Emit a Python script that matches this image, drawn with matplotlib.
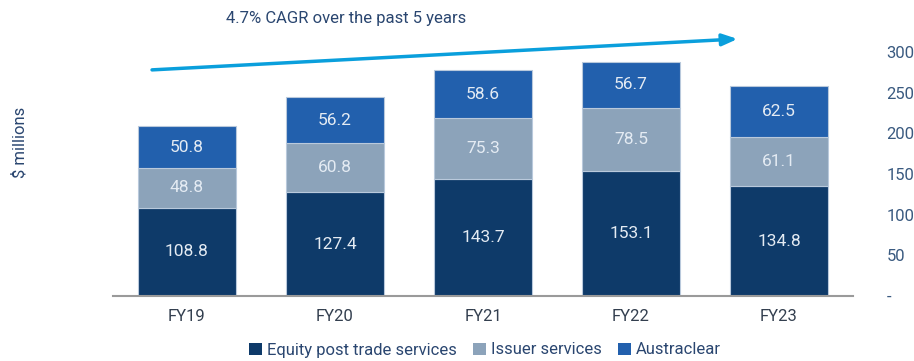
import matplotlib.pyplot as plt
from matplotlib.patches import Patch

years = ["FY19", "FY20", "FY21", "FY22", "FY23"]
equity_post_trade = [108.8, 127.4, 143.7, 153.1, 134.8]
issuer_services = [48.8, 60.8, 75.3, 78.5, 61.1]
austraclear = [50.8, 56.2, 58.6, 56.7, 62.5]

series_names = ["Equity post trade services", "Issuer services", "Austraclear"]
colors = ["#0e3a69", "#8ca3ba", "#2260ad"]
text_col = "#2a4670"

plt.rcParams["font.family"] = ["Roboto", "DejaVu Sans"]

fig = plt.figure(figsize=(9.14, 3.61), dpi=100)
ax = fig.add_axes([0.1236, 0.18, 0.8097, 0.676])

x = list(range(len(years)))
bottom = [0.0] * len(years)
for vals, col in zip([equity_post_trade, issuer_services, austraclear], colors):
    ax.bar(x, vals, width=0.665, bottom=bottom, color=col,
           edgecolor="#b9c9dc", linewidth=0.8)
    for xi, b, v in zip(x, bottom, vals):
        ax.text(xi, b + v / 2, f"{v:.1f}", ha="center", va="center",
                color="#e4ebf3", fontsize=12.5)
    bottom = [b + v for b, v in zip(bottom, vals)]

ax.set_xlim(-0.5, 4.5)
ax.set_ylim(0, 300)
ax.set_xticks(x)
ax.set_xticklabels(years, fontsize=12, color="#333f4f")
ax.set_yticks([0, 50, 100, 150, 200, 250, 300])
ax.set_yticklabels(["-", "50", "100", "150", "200", "250", "300"],
                   fontsize=12, color="#3a5a80")
ax.yaxis.tick_right()
ax.tick_params(axis="y", length=0, pad=24)
ax.tick_params(axis="x", length=0, pad=9)
for s in ["top", "left", "right"]:
    ax.spines[s].set_visible(False)
ax.spines["bottom"].set_color("#9a9a9a")
ax.spines["bottom"].set_linewidth(1.5)

# growth arrow with CAGR note
ax.annotate("", xy=(3.72, 316), xytext=(-0.236, 278),
            arrowprops=dict(arrowstyle="-|>,head_length=0.9,head_width=0.35",
                            color="#0a9fdc", lw=2.5, shrinkA=0, shrinkB=0),
            annotation_clip=False)
fig.text(226 / 914, 1 - 18 / 361, "4.7% CAGR over the past 5 years",
         fontsize=12, color=text_col, ha="left", va="center")

fig.text(20 / 914, 1 - 142 / 361, "$ millions", rotation=90, fontsize=12,
         color=text_col, ha="center", va="center")

handles = [Patch(facecolor=c, edgecolor="none") for c in colors]
fig.legend(handles, series_names, loc="center", bbox_to_anchor=(485 / 914, 1 - 350 / 361),
           ncol=3, frameon=False, fontsize=12, handlelength=0.75, handleheight=0.75,
           handletextpad=0.3, columnspacing=1.0, labelcolor=text_col)

fig.savefig("out.png", dpi=100)
